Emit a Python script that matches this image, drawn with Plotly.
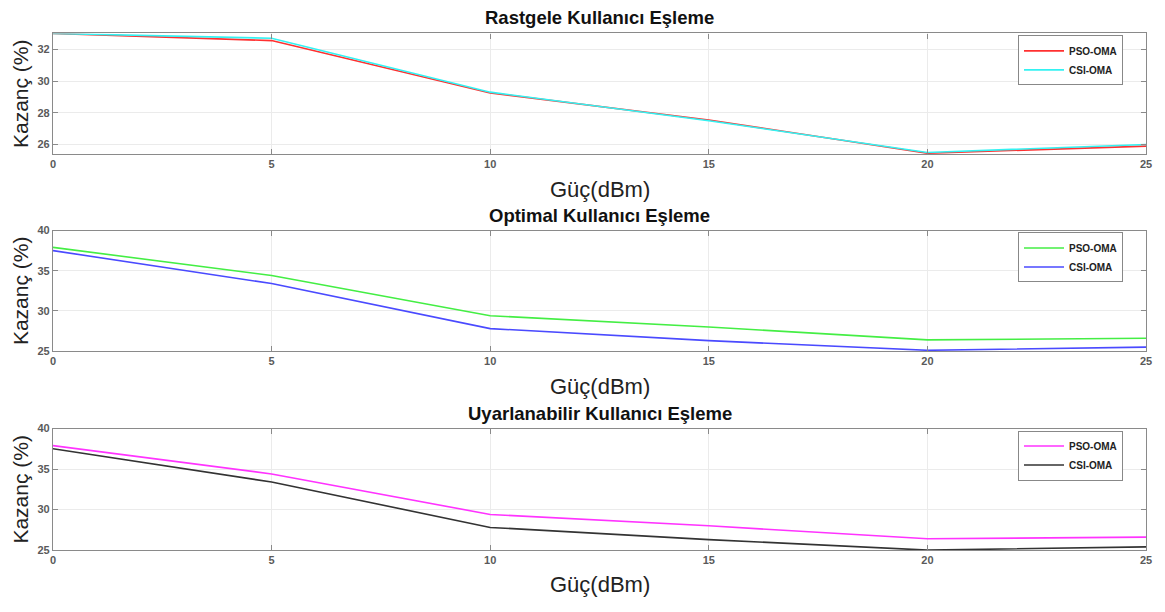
import plotly.graph_objects as go

x_dbm = [0, 5, 10, 15, 20, 25]
x_ticks = [0, 5, 10, 15, 20, 25]

rast_pso = [33.0, 32.55, 29.25, 27.55, 25.45, 25.9]
rast_csi = [33.0, 32.7, 29.3, 27.5, 25.5, 26.0]

opt_pso = [37.9, 34.4, 29.4, 28.0, 26.4, 26.6]
opt_csi = [37.5, 33.4, 27.8, 26.3, 25.1, 25.5]

uyar_pso = [37.9, 34.4, 29.4, 28.0, 26.4, 26.6]
uyar_csi = [37.5, 33.4, 27.8, 26.3, 25.0, 25.4]

titles = ["Rastgele Kullanıcı Eşleme", "Optimal Kullanıcı Eşleme", "Uyarlanabilir Kullanıcı Eşleme"]
series_names = ["PSO-OMA", "CSI-OMA"]
y_ranges = [[25.4, 33.0], [25, 40], [25, 40]]
y_ticks = [[26, 28, 30, 32], [25, 30, 35, 40], [25, 30, 35, 40]]

W, H = 1165, 612
L, R = 53, 19
panels_px = [(28, 151), (229, 352), (431, 555)]
legend_top_px = [30, 231, 433]
title_y_px = [12, 214, 416]
xtitle_y_px = [187, 388, 590]
colors = [("#ff3030", "#33f2f2"), ("#44ee44", "#4a4aff"), ("#ff33ff", "#333333")]
data = [(rast_pso, rast_csi), (opt_pso, opt_csi), (uyar_pso, uyar_csi)]

fig = go.Figure()
font_main = "Liberation Sans, Arial, sans-serif"

annotations = []
for i in range(3):
    top, bot = panels_px[i]
    xa = "x" if i == 0 else f"x{i+1}"
    ya = "y" if i == 0 else f"y{i+1}"
    lg = "legend" if i == 0 else f"legend{i+1}"
    for j in range(2):
        fig.add_trace(go.Scatter(
            x=x_dbm, y=data[i][j], mode="lines", name=series_names[j],
            line=dict(color=colors[i][j], width=1.6),
            xaxis=xa, yaxis=ya, legend=lg, showlegend=True))
    axis_common = dict(showline=True, linecolor="#8a8a8a", linewidth=1.2, mirror="ticks",
                       ticks="inside", ticklen=5, tickcolor="#8a8a8a",
                       showgrid=True, gridcolor="#ebebeb", gridwidth=1, zeroline=False,
                       tickfont=dict(family=font_main, size=11, color="#5a5a5a", weight="bold"))
    xkey = "xaxis" if i == 0 else f"xaxis{i+1}"
    ykey = "yaxis" if i == 0 else f"yaxis{i+1}"
    fig.update_layout({
        xkey: dict(domain=[0, 1], anchor=ya, range=[0, 25], tickvals=x_ticks, **axis_common),
        ykey: dict(domain=[1 - bot / H, 1 - top / H], anchor=xa, range=y_ranges[i],
                   tickvals=y_ticks[i], title=dict(text="Kazanç (%)", standoff=3,
                   font=dict(family=font_main, size=21, color="#222222")), **axis_common),
        lg: dict(x=(1018 - L) / (W - L - R), y=1 - legend_top_px[i] / H, xanchor="left", yanchor="top",
                 bgcolor="white", bordercolor="#888888", borderwidth=1,
                 font=dict(family=font_main, size=10, color="#222222", weight="bold"),
                 tracegroupgap=0, itemwidth=40),
    })
    annotations.append(dict(text=f"<b>{titles[i]}</b>", x=0.5, y=1 - title_y_px[i] / H,
                            xref="paper", yref="paper", showarrow=False, xanchor="center",
                            yanchor="middle", font=dict(family=font_main, size=18.5, color="#111111")))
    annotations.append(dict(text="Güç(dBm)", x=0.5, y=1 - xtitle_y_px[i] / H,
                            xref="paper", yref="paper", showarrow=False, xanchor="center",
                            yanchor="middle", font=dict(family=font_main, size=22, color="#222222")))

fig.update_layout(width=W, height=H, margin=dict(l=L, r=R, t=0, b=0),
                  plot_bgcolor="white", paper_bgcolor="white",
                  annotations=annotations)

fig.write_html("out.html")
